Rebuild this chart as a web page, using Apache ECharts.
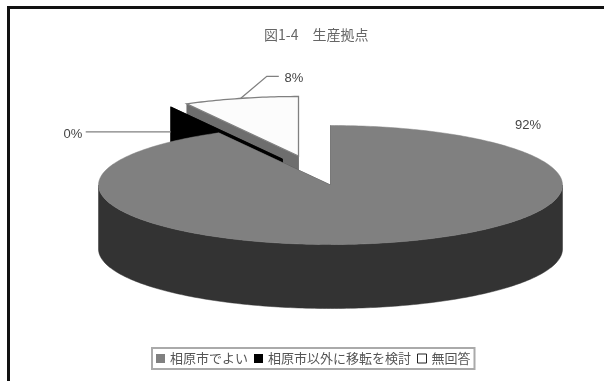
<!DOCTYPE html>
<html>
<head>
<meta charset="utf-8">
<style>html,body{margin:0;padding:0;background:#fff}#chart{width:604px;height:381px}</style>
<script src="https://cdn.jsdelivr.net/npm/echarts@6/dist/echarts.min.js"></script>
</head>
<body>
<div id="chart"></div>
<script>
// 生産拠点の回答割合
const chartTitle = '図1-4　生産拠点';
const categories = ['相原市でよい', '相原市以外に移転を検討', '無回答'];
const percentages = [92, 0, 8];

// Pseudo-3D pie geometry
const CX = 330.5, CY = 185, RX = 232, RY = 59.5, DEPTH = 64;

// Per-slice drawing style: pull-out offset, face colours, label placement
const looks = [
  { dx: 0, dy: 0, top: '#808080', wall: '#333333', cut: '#333333', labelAt: [528, 125] },
  { dx: -48, dy: -26, top: '#000000', wall: '#000000', cut: '#000000', labelAt: [73, 134],
    leader: [[0, 25], [-85, 25]] },
  { dx: -32, dy: -29, top: '#fcfcfc', wall: '#6e6e6e', cut: '#6e6e6e', outline: '#808080', labelAt: [294, 78],
    leader: [[0, 0], [26, -22], [38, -22]] }
];

const total = percentages.reduce((a, b) => a + b, 0);
const startOf = i => percentages.slice(0, i).reduce((a, b) => a + b, 0) / total * 360;

function rimPoint(deg, look, lift) {
  const r = deg * Math.PI / 180;
  return [CX + look.dx + RX * Math.sin(r), CY + look.dy - RY * Math.cos(r) + lift];
}

function sliceRenderer(i) {
  return function (params, api) {
    const look = looks[i];
    const value = api.value(0);
    const a0 = startOf(i);
    const a1 = a0 + value / total * 360;
    const apex = [CX + look.dx, CY + look.dy];
    const kids = [];
    const face = (points, fill, stroke) => kids.push({
      type: 'polygon', shape: { points },
      style: { fill, stroke: stroke || fill, lineWidth: stroke ? 1.3 : 0.5 }
    });

    // Cut faces along both radial edges
    [a0, a1].forEach(a => {
      const e = rimPoint(a, look, 0);
      face([apex, e, [e[0], e[1] + DEPTH], [apex[0], apex[1] + DEPTH]], look.cut);
    });

    // Outer wall, front half only
    const from = Math.max(a0, 90), to = Math.min(a1, 270);
    if (to > from) {
      const upper = [], lower = [];
      for (let a = from; a <= to; a += 1) {
        upper.push(rimPoint(a, look, 0));
        lower.unshift(rimPoint(a, look, DEPTH));
      }
      face(upper.concat(lower), look.wall);
    }

    // Top face
    const top = [apex];
    const steps = Math.max(1, Math.ceil(a1 - a0));
    for (let s = 0; s <= steps; s++) top.push(rimPoint(a0 + (a1 - a0) * s / steps, look, 0));
    if (a1 > a0) face(top, look.top, look.outline);

    // Leader from the rim's midpoint to the label
    if (look.leader) {
      const mid = rimPoint((a0 + a1) / 2, look, 0);
      kids.push({
        type: 'polyline',
        shape: { points: look.leader.map(p => [mid[0] + p[0], mid[1] + p[1]]) },
        style: { fill: 'none', stroke: '#808080', lineWidth: 1.3 }
      });
    }
    kids.push({
      type: 'text',
      style: {
        x: look.labelAt[0], y: look.labelAt[1], text: value + '%', fill: '#444',
        fontSize: 13, fontFamily: 'Liberation Sans', align: 'center', verticalAlign: 'middle'
      }
    });
    return { type: 'group', children: kids };
  };
}

// Farther slices are painted first so the main body overlaps them
const paintOrder = [2, 1, 0];
const swatches = ['#808080', '#000000', '#ffffff'];

const chart = echarts.init(document.getElementById('chart'), null, { renderer: 'canvas' });
chart.setOption({
  animation: false,
  backgroundColor: '#fff',
  title: {
    text: chartTitle, left: 264, top: 28, padding: 0,
    textStyle: { fontSize: 14, fontWeight: 'normal', color: '#666', fontFamily: 'Noto Sans CJK JP' }
  },
  legend: {
    left: 152, top: 348, selectedMode: false, orient: 'horizontal',
    padding: [4, 4, 4, 4], itemGap: 6, itemWidth: 9, itemHeight: 9,
    borderColor: '#aaaaaa', borderWidth: 2,
    textStyle: { fontSize: 13, color: '#555', fontFamily: 'Noto Sans CJK JP' },
    data: categories.map((name, i) => ({
      name, icon: 'rect',
      itemStyle: { color: swatches[i], borderColor: '#222', borderWidth: i === 2 ? 1 : 0 }
    }))
  },
  graphic: [
    { type: 'rect', shape: { x: 7, y: 6, width: 597, height: 3 }, style: { fill: '#111' } },
    { type: 'rect', shape: { x: 7, y: 6, width: 3, height: 375 }, style: { fill: '#111' } }
  ],
  series: paintOrder.map(i => ({
    type: 'custom',
    name: categories[i],
    coordinateSystem: 'none',
    silent: true,
    itemStyle: { color: swatches[i] },
    renderItem: sliceRenderer(i),
    data: [[percentages[i]]]
  }))
});
</script>
</body>
</html>
